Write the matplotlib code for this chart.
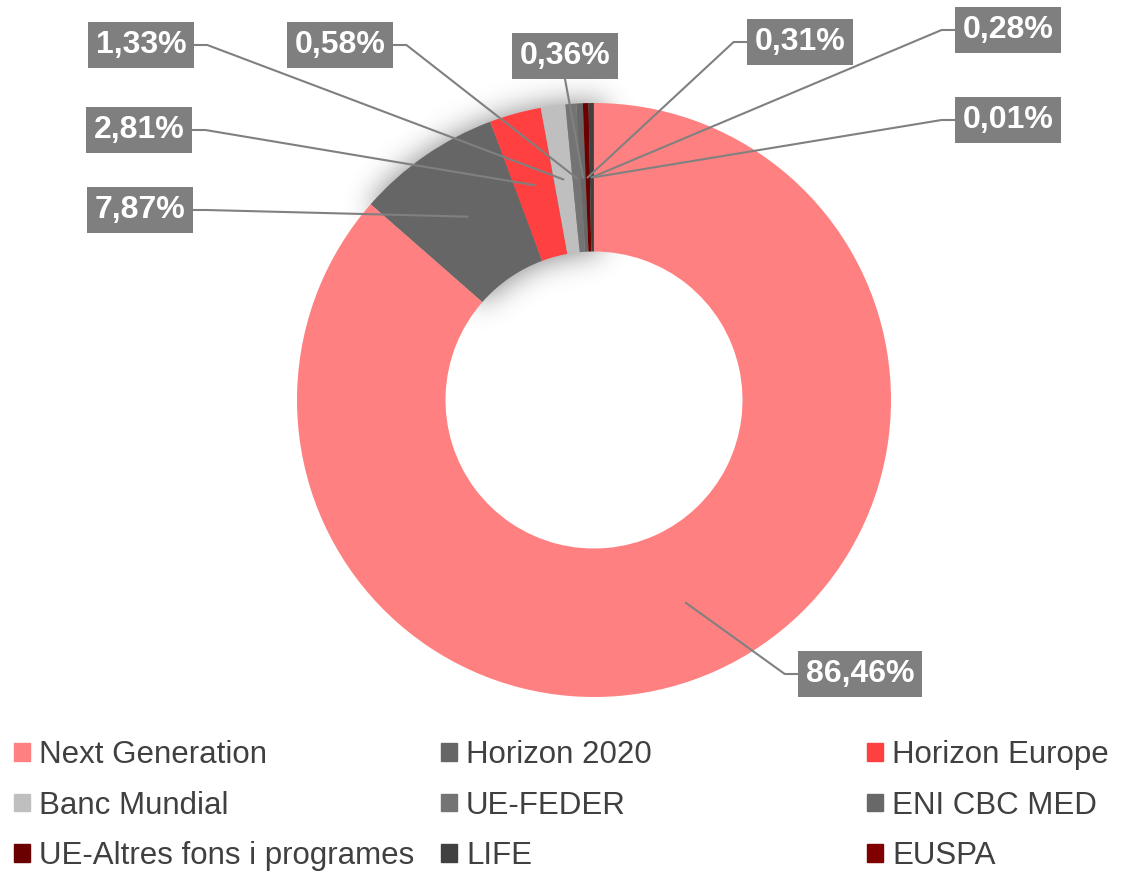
import numpy as np
import matplotlib
matplotlib.use('Agg')
import matplotlib.pyplot as plt
from matplotlib.patches import Patch
from matplotlib.lines import Line2D

plt.rcParams['font.family'] = ['Liberation Sans', 'DejaVu Sans']

# ── dades ──────────────────────────────────────────────
categories = ['Next Generation', 'Horizon 2020', 'Horizon Europe', 'Banc Mundial',
              'UE-FEDER', 'ENI CBC MED', 'UE-Altres fons i programes', 'LIFE', 'EUSPA']
values = [86.46, 7.87, 2.81, 1.33, 0.58, 0.36, 0.31, 0.28, 0.01]
colors = ['#FF8080', '#666666', '#FF4040', '#BFBFBF', '#747474',
          '#686868', '#6B0000', '#404040', '#800000']

# posicio de les etiquetes (px, origen a dalt) i costat on arriba la linia guia
label_pos = [(860, 674, 'left'), (140, 210, 'right'), (139, 130, 'right'),
             (141, 45, 'right'), (340, 45, 'right'), (565, 56, 'bottom'),
             (800, 42, 'left'), (1008, 30, 'left'), (1008, 120, 'left')]

W, H = 1144, 872
fig = plt.figure(figsize=(W / 100, H / 100), dpi=100)

cx, cy, R = 594, 400, 297
ax = fig.add_axes([(cx - R) / W, (H - cy - R) / H, 2 * R / W, 2 * R / H])

wedges, _ = ax.pie(values, colors=colors, startangle=90, counterclock=False,
                   radius=1, wedgeprops=dict(width=0.5, linewidth=0, zorder=2))
wedges[0].set_zorder(3)

# ombra difuminada darrere dels sectors petits
E = 1.4
n = 560
g = np.linspace(-E, E, n)
X, Y = np.meshgrid(g, g)
rr = np.hypot(X, Y)
ang = np.degrees(np.arctan2(Y, X)) % 360
a_hi = 90 + sum(values[1:]) * 3.6
mask = ((rr >= 0.5) & (rr <= 1) & (ang >= 88) & (ang <= a_hi)).astype(float)
sig = 0.05 / (g[1] - g[0])
kx = np.arange(-int(4 * sig), int(4 * sig) + 1)
kern = np.exp(-0.5 * (kx / sig) ** 2)
kern /= kern.sum()
blur = np.apply_along_axis(lambda r: np.convolve(r, kern, mode='same'), 1, mask)
blur = np.apply_along_axis(lambda c: np.convolve(c, kern, mode='same'), 0, blur)
rgba = np.zeros((n, n, 4))
rgba[..., 3] = 0.5 * blur
ax.imshow(rgba, extent=(-E, E, -E, E), origin='lower', zorder=1,
          interpolation='bilinear', clip_on=False)

ax.set_xlim(-1, 1)
ax.set_ylim(-1, 1)
ax.set_aspect('equal')
ax.axis('off')


def px(x, y):
    return x / W, 1 - y / H


texts = []
for v, (lx, ly, side) in zip(values, label_pos):
    fx, fy = px(lx, ly)
    t = fig.text(fx, fy, f'{v:.2f}%'.replace('.', ','), ha='center', va='center',
                 fontsize=23, fontweight='bold', color='white',
                 bbox=dict(boxstyle='square,pad=0.25', fc='#7F7F7F', ec='none'))
    texts.append(t)

fig.canvas.draw()
inv = fig.transFigure.inverted()
for w, t, (lx, ly, side) in zip(wedges, texts, label_pos):
    mid = np.radians((w.theta1 + w.theta2) / 2)
    p = ax.transData.transform((0.75 * np.cos(mid), 0.75 * np.sin(mid)))
    bb = t.get_bbox_patch().get_window_extent()
    ymid = (bb.y0 + bb.y1) / 2
    if side == 'left':
        pts = [p, (bb.x0 - 13, ymid), (bb.x0, ymid)]
    elif side == 'right':
        pts = [p, (bb.x1 + 13, ymid), (bb.x1, ymid)]
    else:
        pts = [p, ((bb.x0 + bb.x1) / 2, bb.y0)]
    fp = inv.transform(np.array(pts))
    fig.add_artist(Line2D(fp[:, 0], fp[:, 1], color='#808080', lw=1.5,
                          transform=fig.transFigure, zorder=5))

# llegenda en tres columnes
col_x = [14, 441, 867]
for c in range(3):
    idx = [c, c + 3, c + 6]
    handles = [Patch(color=colors[i], label=categories[i]) for i in idx]
    fx, fy = px(col_x[c], 740)
    leg = fig.legend(handles=handles, loc='upper left', bbox_to_anchor=(fx, fy),
                     frameon=False, fontsize=22.5, handlelength=0.5, handleheight=0.5,
                     handletextpad=0.3, labelspacing=0.66, borderaxespad=0,
                     borderpad=0)
    for tx in leg.get_texts():
        tx.set_color('#404040')

fig.savefig('out.png', dpi=100)
